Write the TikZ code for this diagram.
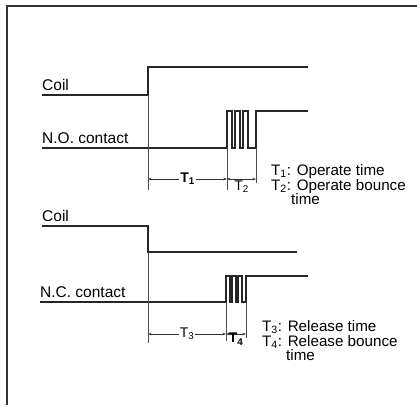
\documentclass[tikz,border=0pt]{standalone}
\usepackage{fontspec}
\setmainfont{Liberation Sans}
\usepackage{tikz}
\usetikzlibrary{arrows.meta,positioning,calc}
\tikzset{
  sig/.style   = {line width=1.3pt, draw=black!85, line join=miter},
  guide/.style = {line width=0.7pt, draw=black!70},
  frame/.style = {line width=1.2pt, draw=black!80},
  dimarr/.style= {{Stealth[length=3.5pt,width=2.5pt]}-{Stealth[length=3.5pt,width=2.5pt]},
                  line width=0.7pt, draw=black!80},
  lbl/.style   = {font=\fontsize{15.5}{17}\selectfont, inner sep=0pt, anchor=base west},
  leg/.style   = {font=\fontsize{15.2}{17}\selectfont, inner sep=0pt, anchor=base west},
  dlbl/.style  = {font=\fontsize{14}{16}\selectfont, inner sep=1pt, fill=white},
}

\begin{document}
\begin{tikzpicture}[x=1pt, y=-1pt]
\useasboundingbox (0,0) rectangle (417,408);

%% Frame
\draw[frame] (417,6) -- (7,6) -- (7,405);

%% Operate part
\node[lbl] (coilA) at (42,90)  {Coil};
\node[lbl] (no)    at (42,143) {N.O. contact};
\draw[sig] (42,95) -- (148,95) -- (148,67) -- (308,67);
\draw[sig] (42,148) -- (227,148)
  \foreach \a/\b in {227/232,235/240,243/248} { -- (\a,148) -- (\a,111) -- (\b,111) -- (\b,148) }
  -- (256,148) -- (256,111) -- (308,111);

\coordinate (onA) at (148,179);
\coordinate (onB) at (227,179);
\coordinate (onC) at (256,179);
\draw[guide] (148,95)  -- (148,190);
\draw[guide] (227,148) -- (227,190);
\draw[guide] (256,148) -- (256,183);
\draw[dimarr] (onA) -- node[dlbl] (tA) {\textbf{T\textsubscript{1}}} (onB);
\draw[dimarr] (onB) -- (onC);
\node[dlbl, fill=none, below=1pt of $(onB)!0.5!(onC)$] (tB) {T\textsubscript{2}};

\node[leg] (legA) at (271,175.5) {T\textsubscript{1}: Operate time};
\node[leg] (legB) at (271,190)   {T\textsubscript{2}: Operate bounce};
\node[leg] (legC) at (291,204.5) {time};

%% Release part
\node[lbl] (coilB) at (42,221) {Coil};
\node[lbl] (nc)    at (40,297) {N.C. contact};
\draw[sig] (42,226) -- (148,226) -- (148,252) -- (297,252);
\draw[sig] (40,302) -- (226,302)
  \foreach \a/\b in {226/230,232/236,238/242} { -- (\a,302) -- (\a,276) -- (\b,276) -- (\b,302) }
  -- (246,302) -- (246,276) -- (308,276);

\coordinate (ncA) at (148,334);
\coordinate (ncB) at (226,334);
\coordinate (ncC) at (246,334);
\draw[guide] (148,252) -- (148,343);
\draw[guide] (226,302) -- (226,341);
\draw[guide] (246,302) -- (246,338);
\draw[dimarr] (ncA) -- node[dlbl] (tC) {T\textsubscript{3}} (ncB);
\draw[dimarr] (ncB) -- (ncC);
\node[dlbl, fill=none, below=-2pt of $(ncB)!0.5!(ncC)$] (tD) {\textbf{T\textsubscript{4}}};

\node[leg] (legD) at (262,331.5) {T\textsubscript{3}: Release time};
\node[leg] (legE) at (262,346)   {T\textsubscript{4}: Release bounce};
\node[leg] (legF) at (286,360.5) {time};

\end{tikzpicture}
\end{document}
